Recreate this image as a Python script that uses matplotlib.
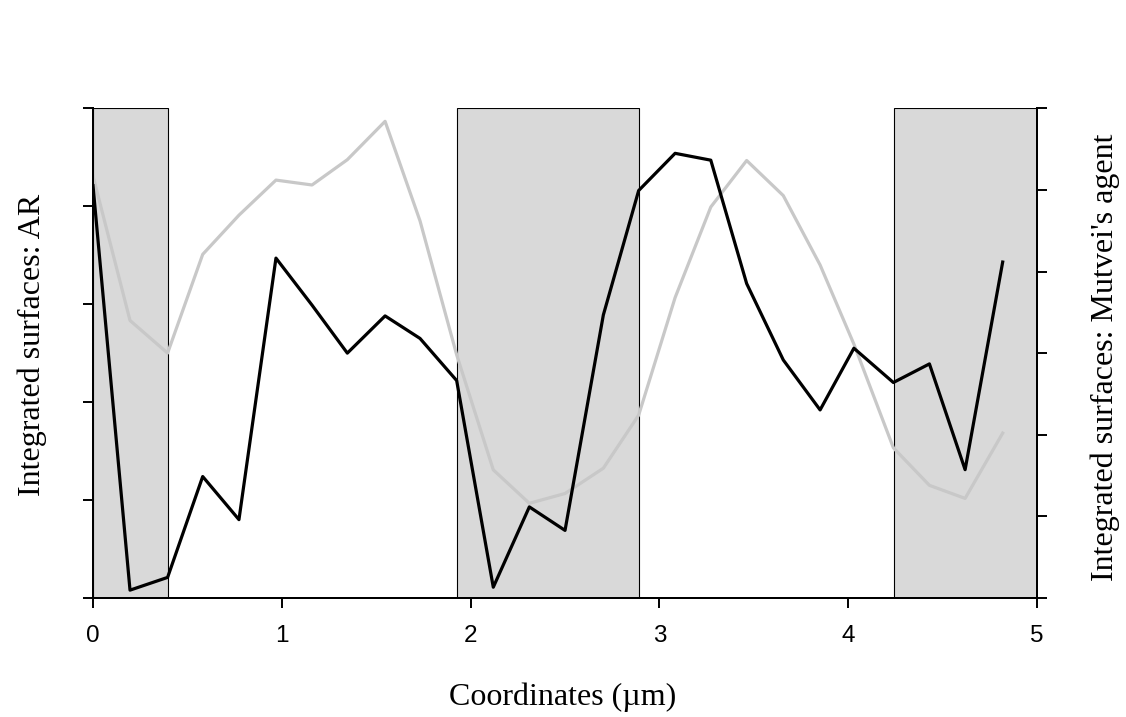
import matplotlib
matplotlib.use('Agg')
import matplotlib.pyplot as plt

# positions along the profile (um)
coords = [0.0, 0.196, 0.395, 0.581, 0.773, 0.969, 1.160, 1.347, 1.547, 1.732,
          1.926, 2.120, 2.311, 2.500, 2.703, 2.890, 3.083, 3.272, 3.462, 3.656,
          3.851, 4.030, 4.239, 4.430, 4.619, 4.818]

# black line, left axis (0-5)
ar_vals = [4.21, 0.08, 0.21, 1.24, 0.80, 3.47, 2.99, 2.50, 2.88, 2.65,
           2.22, 0.11, 0.93, 0.69, 2.89, 4.16, 4.54, 4.47, 3.21, 2.43,
           1.92, 2.55, 2.20, 2.39, 1.31, 3.43]

# grey line, right axis (0-6)
mutvei_vals = [5.17, 3.40, 3.00, 4.21, 4.69, 5.12, 5.06, 5.37, 5.84, 4.62,
               2.98, 1.57, 1.16, 1.28, 1.59, 2.24, 3.68, 4.79, 5.36, 4.93,
               4.08, 3.11, 1.84, 1.38, 1.22, 2.02]

# shaded bands
bands = [(0.0, 0.399), (1.926, 2.890), (4.244, 5.0)]

x_ticks = [0, 1, 2, 3, 4, 5]
left_ticks = [0, 1, 2, 3, 4, 5]
right_ticks = [0, 1, 2, 3, 4, 5, 6]

fig = plt.figure(figsize=(11.26, 7.17), dpi=100)
ax2 = fig.add_axes([0.0826, 0.166, 0.8384, 0.683])
ax = ax2.twinx()
ax.set_zorder(ax2.get_zorder() + 1)
ax.patch.set_visible(False)

for lo, hi in bands:
    ax2.axvspan(lo, hi, facecolor='#d9d9d9', edgecolor='black', linewidth=0.8, zorder=1)

ax2.plot(coords, mutvei_vals, color='#c8c8c8', linewidth=2.3, zorder=2)
ax.plot(coords, ar_vals, color='black', linewidth=2.3, zorder=3)

ax2.set_xlim(0, 5)
ax2.set_ylim(0, 6)
ax.set_ylim(0, 5)

ax2.set_xticks(x_ticks)
ax2.set_xticklabels([str(t) for t in x_ticks], fontname='Liberation Sans', fontsize=17.5)

# the twin carries the left scale here, so put ticks where they belong
ax.yaxis.tick_left()
ax2.yaxis.tick_right()
ax.set_yticks(left_ticks)
ax2.set_yticks(right_ticks)
ax.set_yticklabels([])
ax2.set_yticklabels([])

for a in (ax, ax2):
    a.spines['top'].set_visible(False)
    for s in ('left', 'right', 'bottom'):
        a.spines[s].set_linewidth(1.4)
    a.tick_params(direction='out', length=7.5, width=1.4, pad=12)

fig.text(0.5, 1 - 697 / 717, 'Coordinates (\u00b5m)', ha='center', va='center',
         fontname='Liberation Serif', fontsize=23)
fig.text(32 / 1126, 1 - 345 / 717, 'Integrated surfaces: AR', ha='center', va='center',
         rotation=90, fontname='Liberation Serif', fontsize=23)
fig.text(1105 / 1126, 1 - 357 / 717, "Integrated surfaces: Mutvei's agent", ha='center',
         va='center', rotation=90, fontname='Liberation Serif', fontsize=23)

fig.savefig('out.png', dpi=100)
